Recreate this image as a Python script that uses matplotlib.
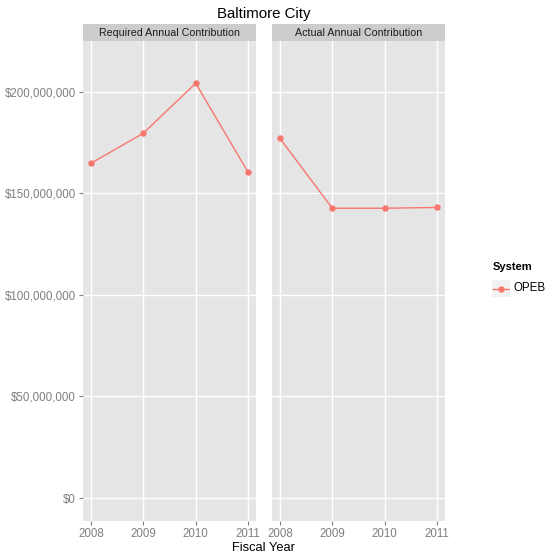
import matplotlib
matplotlib.use("Agg")
import matplotlib.pyplot as plt  # noqa: E402
from matplotlib.lines import Line2D  # noqa: E402
from matplotlib.ticker import FuncFormatter  # noqa: E402

plt.rcParams["font.family"] = ["Liberation Sans", "DejaVu Sans"]

years = [2008, 2009, 2010, 2011]
required = [164.7e6, 179.5e6, 204.1e6, 160.3e6]
actual = [177.0e6, 142.6e6, 142.6e6, 143.0e6]
facets = ["Required Annual Contribution", "Actual Annual Contribution"]
series = [required, actual]
yticks = [0, 50e6, 100e6, 150e6, 200e6]

W, H = 557, 559
fig = plt.figure(figsize=(W / 100, H / 100), dpi=100)

col = "#F8766D"
grey_txt = "#7F7F7F"
panels = [(83, 256), (272, 445)]
top, bot = 41, 521
fmt = FuncFormatter(lambda v, p: "${:,.0f}".format(v))

for i, ((x0, x1), name, vals) in enumerate(zip(panels, facets, series)):
    ax = fig.add_axes([x0 / W, (H - bot) / H, (x1 - x0) / W, (bot - top) / H])
    ax.set_facecolor("#E5E5E5")
    ax.plot(years, vals, color=col, lw=1.0, marker="o", ms=3.6, zorder=3)
    ax.set_xlim(2008 - 0.15, 2011 + 0.15)
    ax.set_ylim(-11.3e6, 224.9e6)
    ax.set_xticks(years)
    ax.set_yticks(yticks)
    ax.yaxis.set_major_formatter(fmt)
    ax.grid(True, color="white", lw=1.0)
    ax.set_axisbelow(True)
    for s in ax.spines.values():
        s.set_visible(False)
    ax.tick_params(colors=grey_txt, labelsize=8.3, length=3, width=0.8, pad=2)
    if i > 0:
        ax.tick_params(axis="y", left=False, labelleft=False)
    # facet strip
    sax = fig.add_axes([x0 / W, (H - top) / H, (x1 - x0) / W, 17 / H])
    sax.set_facecolor("#CCCCCC")
    sax.set_xticks([])
    sax.set_yticks([])
    for s in sax.spines.values():
        s.set_visible(False)
    sax.text(0.5, 0.47, name, ha="center", va="center", fontsize=7.7,
             color="#1A1A1A", transform=sax.transAxes)

fig.text(264 / W, 1 - 14 / H, "Baltimore City", ha="center", va="center", fontsize=10.8)
fig.text(264 / W, 1 - 548 / H, "Fiscal Year", ha="center", va="center", fontsize=9.3)

# legend
fig.text(493 / W, 1 - 267 / H, "System", ha="left", va="center", fontsize=8,
         fontweight="bold")
kax = fig.add_axes([492 / W, (H - 297) / H, 18 / W, 17 / H])
kax.set_facecolor("#F2F2F2")
kax.set_xticks([])
kax.set_yticks([])
for s in kax.spines.values():
    s.set_visible(False)
kax.add_line(Line2D([0.05, 0.95], [0.5, 0.5], color=col, lw=1.0,
                    transform=kax.transAxes))
kax.plot([0.5], [0.5], "o", color=col, ms=3.6, transform=kax.transAxes)
fig.text(514 / W, 1 - 288 / H, "OPEB", ha="left", va="center", fontsize=8.3)

fig.savefig("out.png", dpi=100)
